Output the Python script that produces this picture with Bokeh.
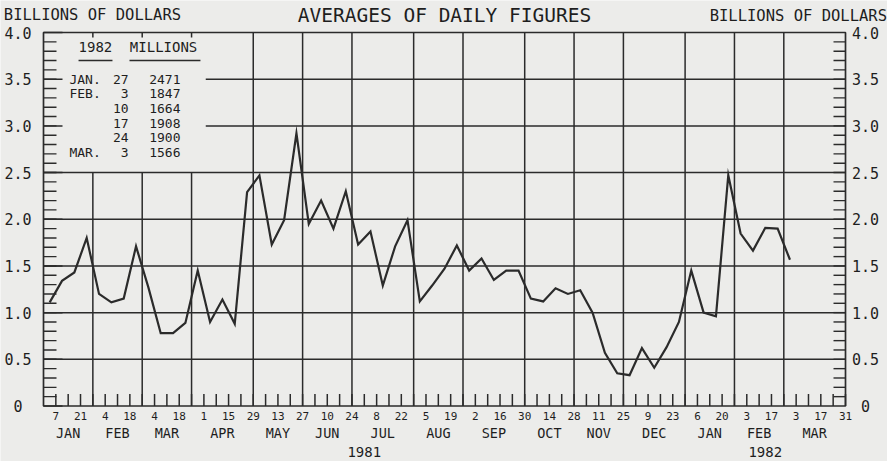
from bokeh.plotting import figure
from bokeh.models import Range1d
from bokeh.embed import file_html
from bokeh.resources import INLINE
from bokeh.core.properties import value

# ---------------- data ----------------
# averages of daily figures, weeks ending Wednesday, 1981-01-07 .. 1982-03-03 (billions of dollars)
week_index = list(range(1, 62))
weekly_avg = [1.11, 1.34, 1.43, 1.80, 1.20, 1.11, 1.15, 1.71, 1.27, 0.78, 0.78, 0.89,
              1.45, 0.90, 1.14, 0.88, 2.29, 2.47, 1.73, 1.99, 2.92, 1.95, 2.20, 1.90, 2.30,
              1.73, 1.87, 1.29, 1.71, 1.99, 1.12, 1.29, 1.47, 1.72, 1.45, 1.58, 1.35, 1.45, 1.45,
              1.15, 1.12, 1.26, 1.20, 1.24, 1.00, 0.57, 0.35, 0.33, 0.62, 0.41, 0.63, 0.90,
              1.45, 1.00, 0.96, 2.471, 1.847, 1.664, 1.908, 1.900, 1.566]

# inset table (1982, millions)
table_months = ["JAN.", "FEB.", "", "", "", "MAR."]
table_days = ["27", "3", "10", "17", "24", "3"]
table_values = ["2471", "1847", "1664", "1908", "1900", "1566"]

# axes
n_weeks = 65
all_weeks = list(range(1, 66))
label_weeks = list(range(1, 66, 2))
day_labels = ["7", "21", "4", "18", "4", "18", "1", "15", "29", "13", "27", "10", "24",
              "8", "22", "5", "19", "2", "16", "30", "14", "28", "11", "25", "9", "23",
              "6", "20", "3", "17", "3", "17", "31"]
month_edges = [0, 4, 8, 12, 17, 21, 25, 30, 34, 39, 43, 47, 52, 56, 60, 65]
month_names = ["JAN", "FEB", "MAR", "APR", "MAY", "JUN", "JUL", "AUG", "SEP", "OCT",
               "NOV", "DEC", "JAN", "FEB", "MAR"]
year_edges = [0, 52, 65]
year_labels = ["1981", "1982"]
y_major = [i * 0.5 for i in range(9)]
y_tick_labels = ["0", "0.5", "1.0", "1.5", "2.0", "2.5", "3.0", "3.5", "4.0"]
y_minor = [i / 10 for i in range(1, 40)]
title_text = "AVERAGES OF DAILY FIGURES"
unit_text = "BILLIONS OF DOLLARS"

# ---------------- layout (pixels) ----------------
W, H = 887, 461
BOX_L, BOX_R, BOX_T, BOX_B = 43, 845, 32, 405.5
PX = (BOX_R - BOX_L) / n_weeks          # pixels per week
PY = (BOX_B - BOX_T) / 4.0              # pixels per billion
def dx(px): return px / PX
def dy(px): return px / PY

BG = "#ececea"
INK = "#2b2b2b"
TXT = "#1e1e1e"
FONT = "DejaVu Sans Mono"

p = figure(width=W, height=H,
           x_range=Range1d(-dx(BOX_L), n_weeks + dx(W - BOX_R)),
           y_range=Range1d(-dy(H - BOX_B), 4 + dy(BOX_T)),
           x_axis_type=None, y_axis_type=None, toolbar_location=None, output_backend="svg",
           min_border=0, background_fill_color=BG, border_fill_color=BG,
           outline_line_color=None)
p.min_border_left = p.min_border_right = p.min_border_top = p.min_border_bottom = 0

# ---------------- grid (interrupted by the inset table) ----------------
box_right = 13.15      # weeks: right edge of the table area
box_bottom = 2.5
x0s, y0s, x1s, y1s = [], [], [], []
for y in y_major[1:-1]:
    x0s.append(box_right if y > box_bottom else 0); x1s.append(n_weeks)
    y0s.append(y); y1s.append(y)
for w in month_edges[1:-1]:
    if w < box_right:
        x0s += [w, w]; x1s += [w, w]
        y0s += [0, 4 - dy(5)]; y1s += [box_bottom, 4]
    else:
        x0s.append(w); x1s.append(w); y0s.append(0); y1s.append(4)
p.segment(x0=x0s, y0=y0s, x1=x1s, y1=y1s, line_color=INK, line_width=1.5)

# ---------------- frame and ticks ----------------
p.quad(left=[0], right=[n_weeks], bottom=[0], top=[4], fill_color=None,
       line_color=INK, line_width=1.7)
# left minor / major ticks (inward)
p.segment(x0=[0] * len(y_minor), y0=y_minor, x1=[dx(13)] * len(y_minor), y1=y_minor,
          line_color=INK, line_width=1.4)
p.segment(x0=[0] * len(y_major), y0=y_major, x1=[dx(19)] * len(y_major), y1=y_major,
          line_color=INK, line_width=1.5)
# right minor ticks
p.segment(x0=[n_weeks - dx(12)] * len(y_minor), y0=y_minor, x1=[n_weeks] * len(y_minor),
          y1=y_minor, line_color=INK, line_width=1.4)
# bottom weekly ticks
p.segment(x0=all_weeks, y0=[0] * len(all_weeks), x1=all_weeks,
          y1=[dy(12)] * len(all_weeks), line_color=INK, line_width=1.5)

# ---------------- data line ----------------
xs = [w - 0.5 for w in week_index]
p.line(xs, weekly_avg, line_color=INK, line_width=2.2, line_join="miter")

# ---------------- texts ----------------
def txt(x, y, text, size, align="center", baseline="middle"):
    p.text(x=x, y=y, text=text, text_font=value(FONT), text_font_size=size,
           text_color=TXT, text_align=align, text_baseline=baseline)

# y tick labels
txt([-dx(25.5)] * len(y_major), y_major, y_tick_labels, "15px")
txt([n_weeks + dx(20)] * len(y_major), y_major, y_tick_labels, "15px")
# x tick labels
txt(label_weeks, [-dy(9.5)] * len(label_weeks), day_labels, "11px")
month_centers = [(a + b) / 2 for a, b in zip(month_edges[:-1], month_edges[1:])]
txt(month_centers, [-dy(27.3)] * len(month_names), month_names, "13.5px")
year_centers = [(a + b) / 2 for a, b in zip(year_edges[:-1], year_edges[1:])]
txt(year_centers, [-dy(45.5)] * len(year_labels), year_labels, "14px")
# titles
txt([n_weeks / 2], [4 + dy(17)], [title_text], "19.5px")
txt([-dx(39.7)], [4 + dy(17.7)], [unit_text], "15.5px", align="left")
txt([n_weeks + dx(41.5)], [4 + dy(17)], [unit_text], "15.5px", align="right")

# inset table
row_y = [3.5 - i * 0.1565 for i in range(len(table_values))]
txt([2.1] * 6, row_y, table_months, "13px", align="left")
txt([6.9] * 6, row_y, table_days, "13px", align="right")
txt([11.1] * 6, row_y, table_values, "13px", align="right")
txt([2.84, 7.0], [3.84, 3.84], ["1982", "MILLIONS"], "14px", align="left")
p.segment(x0=[2.84, 6.97], y0=[3.70, 3.70], x1=[5.59, 12.72], y1=[3.70, 3.70],
          line_color=INK, line_width=1.3)

open("out.html", "w").write(file_html(p, INLINE))
